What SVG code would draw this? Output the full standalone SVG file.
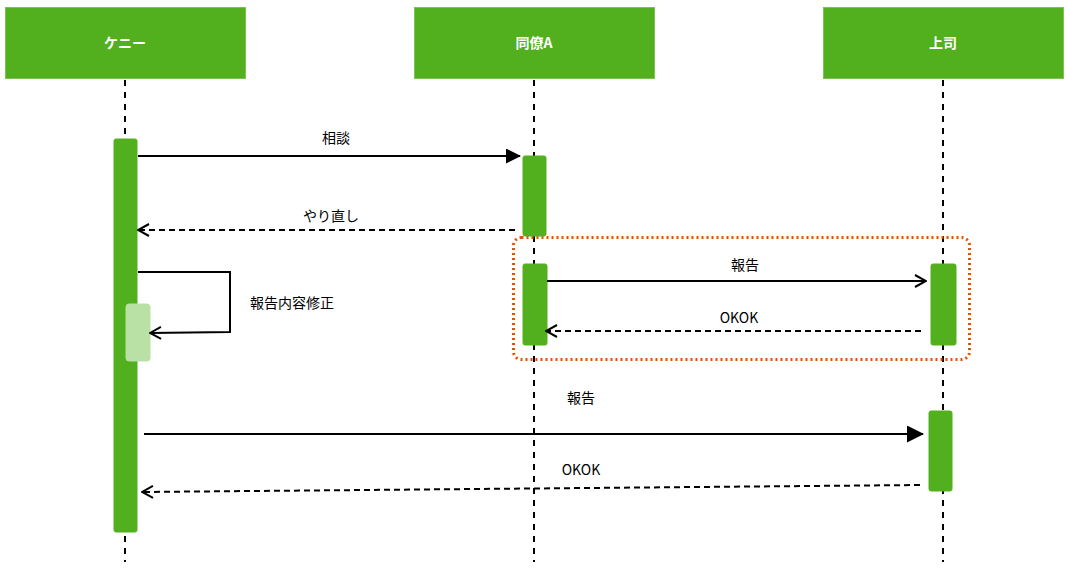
<svg xmlns="http://www.w3.org/2000/svg" width="1067" height="572" viewBox="0 0 1067 572">
<style>
.hdr{fill:#52B01E;stroke:#7CC352;stroke-width:1}
.hdrt{font-family:"Noto Sans CJK JP","Liberation Sans",sans-serif;font-size:14px;font-weight:bold;fill:#ffffff;text-anchor:middle}
.life{stroke:#000;stroke-width:2;stroke-dasharray:6 6;fill:none}
.act{fill:#52B01E;stroke:#52B01E;stroke-width:1}
.act2{fill:#B9E0A5;stroke:#B9E0A5;stroke-width:1}
.msg{stroke:#000;stroke-width:2;fill:none}
.dash{stroke-dasharray:6 4}
.lbl{font-family:"Noto Sans CJK JP","Liberation Sans",sans-serif;font-size:14px;fill:#000;text-anchor:middle}
</style>
<defs>
<marker id="block" markerWidth="15" markerHeight="15" refX="14" refY="7.5" orient="auto" markerUnits="userSpaceOnUse" viewBox="0 0 15 15">
<path d="M0,0 L15,7.5 L0,15 Z" fill="#000"/>
</marker>
<marker id="blockL" markerWidth="17" markerHeight="17" refX="16" refY="8.5" orient="auto" markerUnits="userSpaceOnUse" viewBox="0 0 17 17">
<path d="M0,0 L17,8.5 L0,17 Z" fill="#000"/>
</marker>
<marker id="openEnd" markerWidth="14" markerHeight="14" refX="13" refY="7" orient="auto" markerUnits="userSpaceOnUse" viewBox="0 0 14 14">
<path d="M2,1 L13,7 L2,13" fill="none" stroke="#000" stroke-width="2"/>
</marker>
</defs>
<g id="lifelines">
<line class="life" x1="125" y1="80" x2="125" y2="562"/>
<line class="life" x1="534" y1="80" x2="534" y2="562"/>
<line class="life" x1="943" y1="80" x2="943" y2="562"/>
</g>
<g id="node-kenny">
<rect class="hdr" x="5.5" y="7.5" width="240" height="71"/>
<text class="hdrt" x="125" y="48">ケニー</text>
</g>
<g id="node-douryou">
<rect class="hdr" x="414.5" y="7.5" width="240" height="71"/>
<text class="hdrt" x="534" y="48">同僚A</text>
</g>
<g id="node-joushi">
<rect class="hdr" x="823.5" y="7.5" width="240" height="71"/>
<text class="hdrt" x="943" y="48">上司</text>
</g>
<g id="group-box">
<rect x="513.5" y="237.5" width="456" height="122" rx="8" ry="8" fill="none" stroke="#E65100" stroke-width="3" stroke-dasharray="2 3"/>
</g>
<g id="act-kenny">
<rect class="act" x="114" y="139" width="23" height="393" rx="2"/>
</g>
<g id="act-kenny-self">
<rect class="act2" x="126" y="304" width="24" height="57" rx="3"/>
</g>
<g id="act-douryou-1">
<rect class="act" x="523" y="156" width="23" height="80" rx="2"/>
</g>
<g id="act-douryou-2">
<rect class="act" x="523" y="264" width="24" height="81" rx="2"/>
</g>
<g id="act-joushi-1">
<rect class="act" x="931" y="264" width="25" height="81" rx="2"/>
</g>
<g id="act-joushi-2">
<rect class="act" x="929" y="411" width="23" height="80" rx="2"/>
</g>
<g id="connectors">
<line class="msg" x1="138" y1="156" x2="520" y2="156" marker-end="url(#block)"/>
<text class="lbl" x="336" y="143">相談</text>
<line class="msg dash" x1="515" y1="230" x2="138" y2="230" marker-end="url(#openEnd)"/>
<text class="lbl" x="331" y="221">やり直し</text>
<polyline class="msg" points="138,272 230,272 230,332 150,333" marker-end="url(#openEnd)"/>
<text class="lbl" x="292" y="308">報告内容修正</text>
<line class="msg" x1="547" y1="281" x2="926" y2="281" marker-end="url(#openEnd)"/>
<text class="lbl" x="745" y="270">報告</text>
<line class="msg dash" x1="921" y1="331" x2="546" y2="331" marker-end="url(#openEnd)"/>
<text class="lbl" x="739" y="323">OKOK</text>
<line class="msg" x1="144" y1="434" x2="923" y2="434" marker-end="url(#blockL)"/>
<text class="lbl" x="581" y="403">報告</text>
<line class="msg dash" x1="920" y1="485" x2="142" y2="492" marker-end="url(#openEnd)"/>
<text class="lbl" x="581" y="475">OKOK</text>
</g>
</svg>
